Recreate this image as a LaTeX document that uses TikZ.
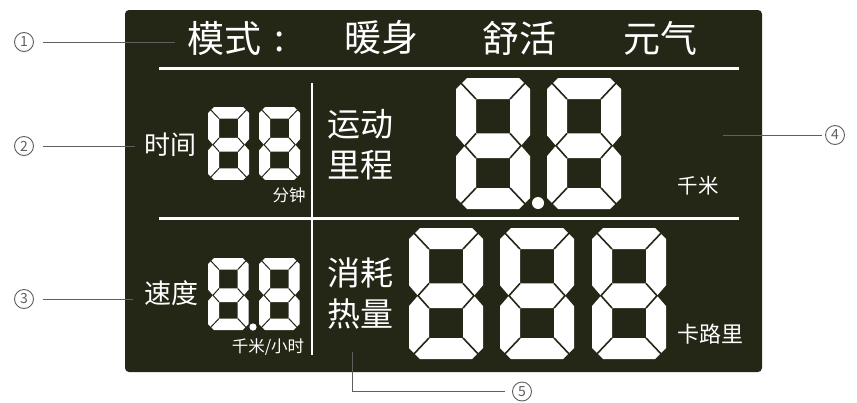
\documentclass[tikz,border=0pt]{standalone}
\usepackage{fontspec}
\setmainfont{Noto Sans CJK SC}
\definecolor{panel}{RGB}{36,38,22}
\definecolor{callout}{RGB}{95,95,95}
\tikzset{
  lcd/.style={text=white, inner sep=0pt},
  calloutline/.style={draw=callout, line width=1pt},
  numcircle/.style={circle, draw=callout, line width=0.9pt, text=callout, minimum size=19pt, inner sep=0pt, font=\fontsize{14}{14}\selectfont},
  sepline/.style={draw=white, line width=3pt},
}
% #1 x, #2 y (top-left), #3 scale, #4 split line width
\newcommand\lcddigit[4]{%
  \begin{scope}[shift={(#1,#2)}, scale=#3]
    \fill[white, even odd rule] (11,0) -- (63,0) -- (74,11) -- (74,57.3) -- (65,67.7) -- (74,78.1) -- (74,120) -- (63,131) -- (11,131) -- (0,120) -- (0,78.1) -- (9,67.7) -- (0,57.3) -- (0,11) -- cycle
      (20,21) rectangle (54,55.4) (20,80) rectangle (54,110);
    \draw[panel, line width=#4] (2,2) -- (20,21) (72,2) -- (54,21)
      (20,55.4) -- (9,67.7) -- (20,80) (54,55.4) -- (65,67.7) -- (54,80)
      (20,110) -- (2,129) (54,110) -- (72,129);
  \end{scope}}
\begin{document}
\begin{tikzpicture}[x=1pt, y=-1pt]
  \useasboundingbox (0,0) rectangle (857,402);
  \fill[white] (0,0) rectangle (857,402);
  % panel
  \fill[panel, rounded corners=4pt] (125,10) rectangle (762,372);
  % separators
  \draw[sepline] (159,68.5) -- (739,68.5);
  \draw[sepline] (159,218) -- (739,218);
  \draw[white, line width=2.6pt] (312,83) -- (312,355);
  % title
  \node[lcd, font=\fontsize{37}{37}\selectfont] (m1) at (224,38) {模式};
  \node[lcd, font=\fontsize{37}{37}\selectfont] (m2) at (280,42) {:};
  \node[lcd, font=\fontsize{37}{37}\selectfont] (m3) at (381,38) {暖身};
  \node[lcd, font=\fontsize{37}{37}\selectfont] (m4) at (519,38) {舒活};
  \node[lcd, font=\fontsize{37}{37}\selectfont] (m5) at (660,38) {元气};
  % time
  \node[lcd, font=\fontsize{26}{26}\selectfont] (t1) at (170,145) {时间};
  \lcddigit{208}{107}{0.557}{1pt}
  \lcddigit{259}{107}{0.557}{1pt}
  \node[lcd, font=\fontsize{16.5}{16.5}\selectfont] (t2) at (289,195) {分钟};
  % distance
  \node[lcd, font=\fontsize{33}{33}\selectfont] (d1) at (360,124) {运动};
  \node[lcd, font=\fontsize{33}{33}\selectfont] (d2) at (360,165) {里程};
  \lcddigit{456}{78}{1}{1.6pt}
  \lcddigit{547}{78}{1}{1.6pt}
  \fill[white] (538,203) circle (6pt);
  \node[lcd, font=\fontsize{20.5}{20.5}\selectfont] (d3) at (698,186) {千米};
  % speed
  \node[lcd, font=\fontsize{27}{27}\selectfont] (s1) at (171,293) {速度};
  \lcddigit{208}{258}{0.55}{1pt}
  \lcddigit{259}{258}{0.55}{1pt}
  \fill[white] (253,327) circle (3.6pt);
  \node[lcd, font=\fontsize{16.5}{16.5}\selectfont] (s2) at (268,347) {千米/小时};
  % calories
  \node[lcd, font=\fontsize{33}{33}\selectfont] (k1) at (360,273) {消耗};
  \node[lcd, font=\fontsize{33}{33}\selectfont] (k2) at (360,314) {热量};
  \lcddigit{409}{228}{1}{1.6pt}
  \lcddigit{500}{228}{1}{1.6pt}
  \lcddigit{592}{228}{1}{1.6pt}
  \node[lcd, font=\fontsize{22}{22}\selectfont] (k3) at (710,334) {卡路里};
  % callouts
  \node[numcircle] (c1) at (24,42) {1};
  \node[numcircle] (c2) at (24,146) {2};
  \node[numcircle] (c3) at (24,299) {3};
  \node[numcircle] (c4) at (835,135) {4};
  \node[numcircle] (c5) at (522,391.5) {5};
  \coordinate (e1) at (175,42);
  \coordinate (e2) at (135,146);
  \coordinate (e3) at (133,299);
  \coordinate (e4) at (723,135);
  \coordinate (e5) at (352.7,352);
  \coordinate (b5) at (352.7,391.5);
  \draw[calloutline, shorten <=9pt] (c1.east) -- (e1);
  \draw[calloutline, shorten <=9pt] (c2.east) -- (e2);
  \draw[calloutline, shorten <=9pt] (c3.east) -- (e3);
  \draw[calloutline, shorten <=3pt] (c4.west) -- (e4);
  \draw[calloutline, shorten >=7pt] (e5) -- (b5) -- (c5.west);
\end{tikzpicture}
\end{document}
